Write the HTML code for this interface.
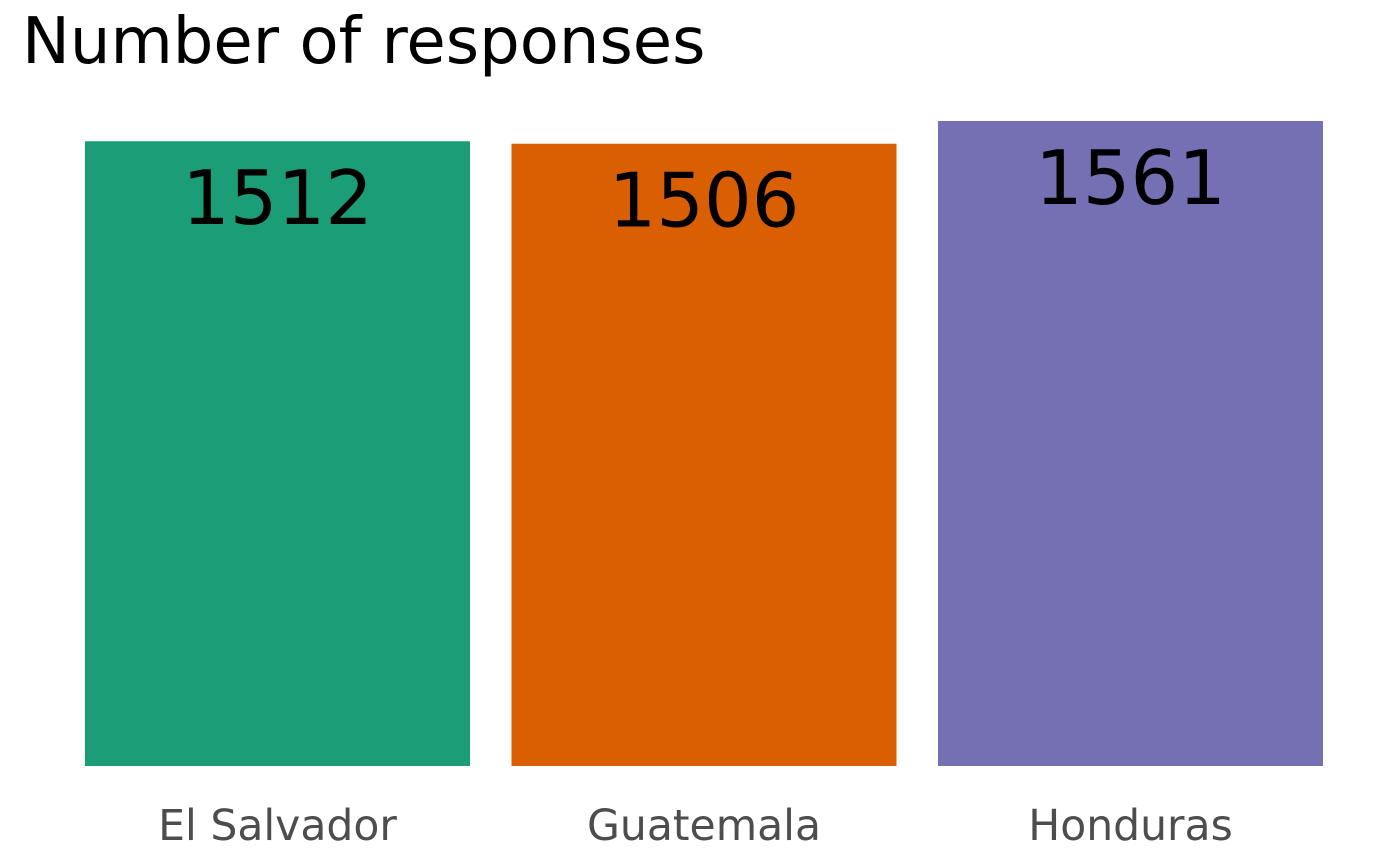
<!DOCTYPE html>
<html><head><meta charset="utf-8"><style>
html,body{margin:0;padding:0;background:#fff;}
svg{display:block;font-family:"DejaVu Sans","Liberation Sans",sans-serif;}
</style></head><body>
<svg id="chart" width="1400" height="865">
<text x="22" y="63" font-size="64" fill="#000">Number of responses</text>
<g id="bars"></g>
</svg>
<script>
const categories = ["El Salvador","Guatemala","Honduras"];
const values = [1512,1506,1561];
const colors = ["#1b9e77","#d95f02","#7570b3"];
const baseY = 766, scaleK = 645/1561;
const x0 = 85, step = 426.5, bw = 385;
const y = v => baseY - v*scaleK;
const g = document.getElementById('bars');
const ns = 'http://www.w3.org/2000/svg';
categories.forEach((c,i)=>{
  const r = document.createElementNS(ns,'rect');
  
  
  r.setAttribute('x', x0+i*step); r.setAttribute('width', bw);
  r.setAttribute('y', y(values[i])); r.setAttribute('height', baseY-y(values[i]));
  r.setAttribute('fill', colors[i]);
  g.appendChild(r);
  const cx = x0+i*step+bw/2;
  const t = document.createElementNS(ns,'text');
  
  
  t.setAttribute('x', cx); t.setAttribute('y', y(values[i])+83);
  t.setAttribute('text-anchor','middle'); t.setAttribute('font-size','75');
  t.textContent = values[i];
  g.appendChild(t);
  const a = document.createElementNS(ns,'text');
  
  
  a.setAttribute('x', cx); a.setAttribute('y', 840);
  a.setAttribute('text-anchor','middle'); a.setAttribute('font-size','42.5');
  a.setAttribute('fill','#4d4d4d');
  a.textContent = c;
  g.appendChild(a);
});
</script>
</body></html>
